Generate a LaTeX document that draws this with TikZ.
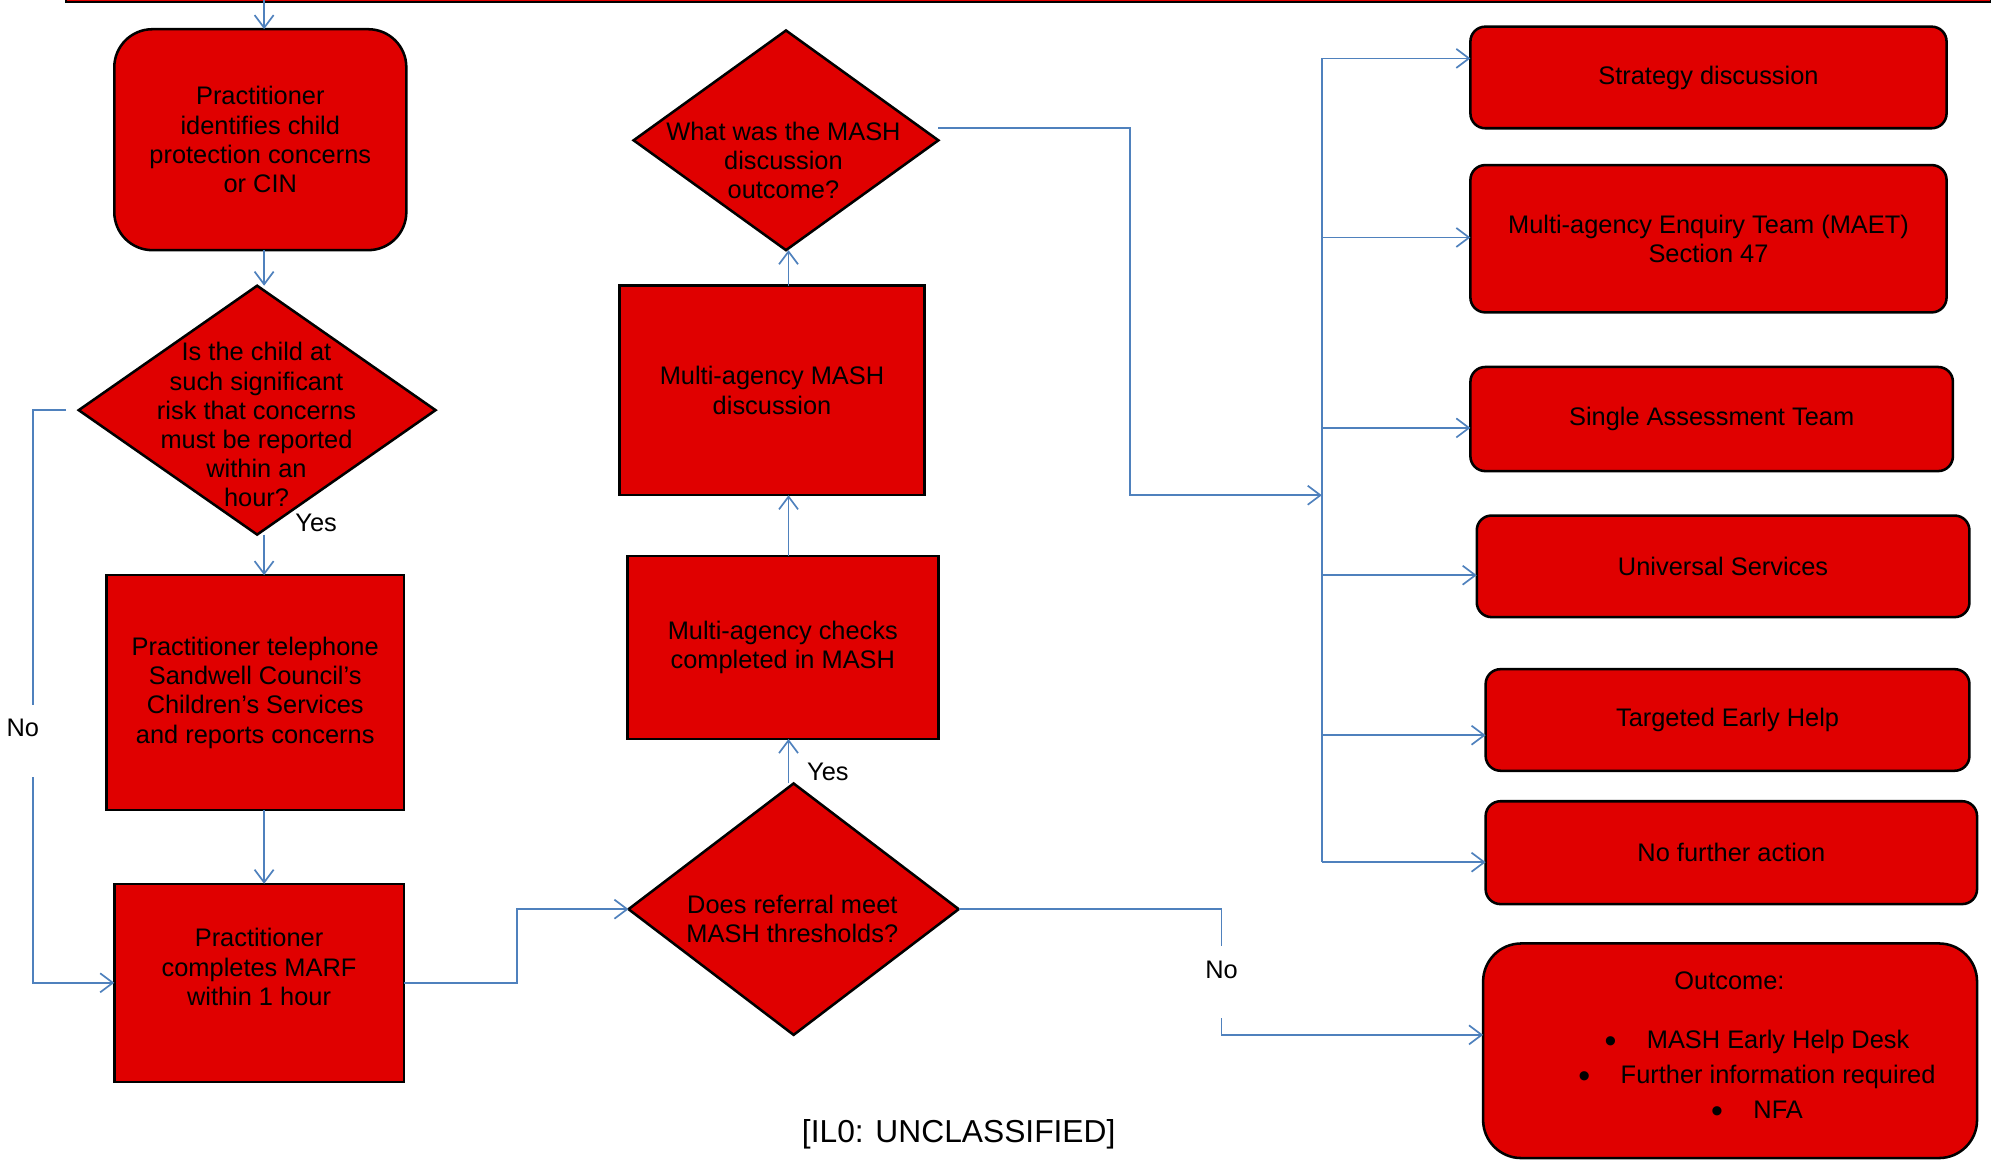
\documentclass[tikz,border=0pt]{standalone}
\usepackage{fontspec}
\setmainfont{Liberation Sans}
\usetikzlibrary{arrows.meta,shapes.geometric}
\definecolor{boxred}{RGB}{224,0,0}
\definecolor{linkblue}{RGB}{79,129,189}
\newcommand{\bigbul}{\makebox[20pt][l]{\raisebox{-2pt}{\fontsize{16}{16}\selectfont\textbullet}}}
\begin{document}
\begin{tikzpicture}[x=0.6pt,y=-0.6pt,
  every node/.style={font=\fontsize{12}{13.8}\selectfont, align=center, inner sep=0pt, outer sep=0pt},
  box/.style={draw=black, line width=1.2pt, fill=boxred},
  rbox/.style={box, rounded corners=7pt},
  dia/.style={box, diamond},
  conn/.style={draw=linkblue, line width=0.8pt},
  arr/.style={conn, -{Straight Barb[length=6pt,width=9pt]}}
]
\useasboundingbox (0,0) rectangle (1568,914);

% top bar
\draw[box, line width=0.8pt] (52,-10) rectangle (1568,1.5);

% left column
\node[box, rounded corners=18pt, minimum width=138pt, minimum height=104.4pt] (p1) at (205,110) {Practitioner\\identifies child\\protection concerns\\or CIN};
\node[dia, minimum width=168.6pt, minimum height=117.6pt] (d1) at (202.5,323) {};
\node (d1t) at (202,334.5) {Is the child at\\such significant\\risk that concerns\\must be reported\\within an\\hour?};
\node[box, minimum width=140.4pt, minimum height=111pt] (p2) at (201,545.5) {Practitioner telephone\\Sandwell Council’s\\Children’s Services\\and reports concerns};
\node[box, minimum width=136.8pt, minimum height=93.6pt] (p3) at (204,774) {};
\node (p3t) at (204,761.5) {Practitioner\\completes MARF\\within 1 hour};

% middle column
\node[dia, minimum width=156pt, minimum height=118.8pt] (d2) at (625,716) {};
\node (d2t) at (624,723.5) {Does referral meet\\MASH thresholds?};
\node[box, minimum width=147pt, minimum height=86.4pt] (p4) at (616.5,510) {Multi-agency checks\\completed in MASH};
\node[box, minimum width=144pt, minimum height=99pt] (p5) at (608,307.5) {Multi-agency MASH\\discussion};
\node[dia, minimum width=144pt, minimum height=103.8pt] (d3) at (619,110.5) {};
\node (d3t) at (617,126.5) {What was the MASH\\discussion\\outcome?};

% right column
\node[rbox, minimum width=225pt, minimum height=48pt] (r1) at (1345.5,61) {Strategy discussion};
\node[rbox, minimum width=225pt, minimum height=69.6pt] (r2) at (1345.5,188) {Multi-agency Enquiry Team (MAET)\\Section 47};
\node[rbox, minimum width=228pt, minimum height=49.2pt] (r3) at (1348,330) {Single Assessment Team};
\node[rbox, minimum width=232.8pt, minimum height=48pt] (r4) at (1357,446) {Universal Services};
\node[rbox, minimum width=228.6pt, minimum height=48pt] (r5) at (1360.5,567) {Targeted Early Help};
\node[rbox, minimum width=232.2pt, minimum height=48.6pt] (r6) at (1363.5,671.5) {No further action};
\node[box, rounded corners=18pt, minimum width=233.4pt, minimum height=101.4pt] (r7) at (1362.5,827.5) {};
\node[font=\fontsize{12}{16.5}\selectfont] (r7t) at (1362,824.5) {Outcome:\\[11.5pt]
  \hspace*{26pt}\bigbul MASH Early Help Desk\\
  \hspace*{26pt}\bigbul Further information required\\
  \hspace*{26pt}\bigbul NFA};

% labels
\node (y1) at (249,412) {Yes};
\node (y2) at (652,608) {Yes};
\node (n1) at (18,573) {No};
\node (n2) at (962,764) {No};
\node[font=\fontsize{15}{18}\selectfont] (foot) at (755,893) {[IL0: UNCLASSIFIED]};

% coordinates
\coordinate (topin) at (208,0);
\coordinate (cx) at (621,0);
\coordinate (nA) at (26,555);
\coordinate (nB) at (26,612);
\coordinate (m1) at (407,745);
\coordinate (m2) at (890,250);
\coordinate (busin) at (1041,390);
\coordinate (nC) at (962,745);
\coordinate (nD) at (962,802);
\coordinate (k1) at (1041,46);
\coordinate (k2) at (1041,187);
\coordinate (k3) at (1041,337);
\coordinate (k4) at (1041,453);
\coordinate (k5) at (1041,579);
\coordinate (k6) at (1041,679);

% connectors left
\draw[arr] (topin) -- (topin |- p1.north);
\draw[arr] (p1.south -| topin) -- (d1.north -| topin);
\draw[arr] (d1.south -| topin) -- (p2.north -| topin);
\draw[arr] (p2.south -| topin) -- (p3.north -| topin);
\draw[conn] ([xshift=-6pt]d1.west) -| (nA);
\draw[arr] (nB) |- (p3.west);
\draw[arr] (p3.east) -| (m1) |- (d2.west);

% middle
\draw[arr] (d2.north -| cx) -- (p4.south -| cx);
\draw[arr] (p4.north -| cx) -- (p5.south -| cx);
\draw[arr] (p5.north -| cx) -- (d3.south -| cx);
\draw[arr] ([yshift=5.7pt]d3.east) -| (m2) |- (busin);

% bus
\draw[conn] (k1) -- (k6);
\draw[arr] (k1) -- (k1 -| r1.west);
\draw[arr] (k2) -- (k2 -| r2.west);
\draw[arr] (k3) -- (k3 -| r3.west);
\draw[arr] (k4) -- (k4 -| r4.west);
\draw[arr] (k5) -- (k5 -| r5.west);
\draw[arr] (k6) -- (k6 -| r6.west);

% no branch
\draw[conn] (d2.east) -| (nC);
\draw[arr] (nD) |- ([yshift=7.5pt]r7.west);
\end{tikzpicture}
\end{document}
